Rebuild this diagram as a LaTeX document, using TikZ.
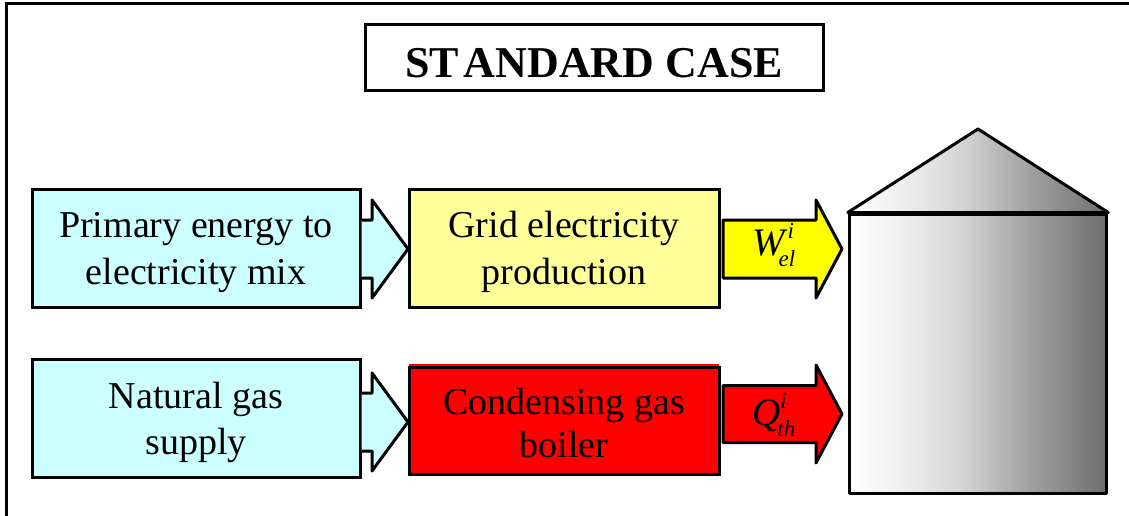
\documentclass[tikz,border=0pt]{standalone}
\usepackage{fontspec}
\setmainfont{Liberation Serif}
\usetikzlibrary{calc}
\definecolor{paleblue}{HTML}{CCFFFF}
\definecolor{paleyellow}{HTML}{FFFF99}
\definecolor{pureyellow}{RGB}{255,255,0}
\definecolor{purered}{RGB}{255,0,0}
\pgfdeclarehorizontalshading{silograd}{100bp}{
  rgb(0bp)=(1,1,1); rgb(25bp)=(1,1,1);
  rgb(37bp)=(0.925,0.925,0.925);
  rgb(47bp)=(0.83,0.83,0.83);
  rgb(60bp)=(0.63,0.63,0.63);
  rgb(75bp)=(0.43,0.43,0.43); rgb(100bp)=(0.43,0.43,0.43)}
\tikzset{
  box/.style={draw=black,line width=3pt,inner sep=0pt,align=center,font=\fontsize{38}{47}\selectfont},
  flow/.style={draw=black,line width=3pt,line join=round},
  silofill/.style={draw=black,line width=3pt,line join=round,shading=silograd},
}
\newcommand\shifted[2]{\raisebox{#1}[\height][\depth]{\begin{tabular}{@{}c@{}}#2\end{tabular}}}
\newcommand\blockarrow[7]{%
  \draw[flow,fill=#1] let \p1=(#2),\p2=(#3) in
    (\x1,\y2+#5) -- (\x2-#4,\y2+#5) -- (\x2-#4,\y2+#6) -- (\x2,\y2)
    -- (\x2-#4,\y2-#6) -- (\x2-#4,\y2-#5) -- (\x1,\y2-#5) #7;}
\newcommand\symb[5]{{\fontsize{39}{39}\selectfont\itshape #1\rlap{\hspace{#2}\raisebox{17pt}{\fontsize{23}{23}\selectfont i}}\rlap{\hspace{#3}\raisebox{#4}{\fontsize{23}{23}\selectfont #5}}}}
\begin{document}
\begin{tikzpicture}[x=1pt,y=-1pt]
\useasboundingbox (0,0) rectangle (1129,516);
\coordinate (frameA) at (6,516);
\coordinate (frameB) at (6,4);
\coordinate (frameC) at (1129,4);
\draw[line width=3pt] (frameA) -- (frameB) -- (frameC);
\node[box,minimum width=458pt,minimum height=66pt,font=\fontsize{44}{50}\selectfont\bfseries] (title) at (594,58) {\raisebox{-5pt}[\height][\depth]{ST\kern5pt ANDARD CASE}};
\node[box,fill=paleblue,minimum width=328pt,minimum height=118pt] (mix) at (196,248) {\shifted{-4pt}{Primary energy to\\electricity mix}};
\node[box,fill=paleyellow,minimum width=310pt,minimum height=118pt] (grid) at (564,248) {\shifted{-4pt}{Grid electricity\\production}};
\node[box,fill=paleblue,minimum width=328pt,minimum height=118pt] (gas) at (196,418) {\shifted{-4pt}{Natural gas\\[-1pt]supply}};
\fill[purered] (409,364) rectangle (719,370);
\node[box,fill=purered,minimum width=310pt,minimum height=107pt] (boiler) at (564,420.5) {\shifted{-6pt}{Condensing gas\\[-4pt]boiler}};
\node[silofill,rectangle,minimum width=257.5pt,minimum height=279pt] (silo) at (978,353.5) {};
\coordinate (apex) at (978,129);
\draw[silofill] (silo.north west) -- (apex) -- (silo.north east) -- cycle;
\draw[line width=3pt] (silo.north west) -- (silo.north east);
\coordinate (tipa) at (408,249);
\coordinate (tipb) at (408,422);
\coordinate (outa) at (723,249);
\coordinate (enda) at (842,249);
\coordinate (outb) at (723,414);
\coordinate (endb) at (842,414);
\blockarrow{paleblue}{mix.east}{tipa}{36}{29}{49}{}
\blockarrow{paleblue}{gas.east}{tipb}{36}{29}{49}{}
\blockarrow{pureyellow}{outa}{enda}{26}{29}{49}{-- cycle}
\blockarrow{purered}{outb}{endb}{26}{28.5}{49}{-- cycle}
\node[anchor=base west,inner sep=0pt] (wel) at (752,255) {\symb{W}{3pt}{-6pt}{-11pt}{el}};
\node[anchor=base west,inner sep=0pt] (qth) at (752,425) {\symb{Q}{0pt}{-3pt}{-11pt}{th}};
\end{tikzpicture}
\end{document}
